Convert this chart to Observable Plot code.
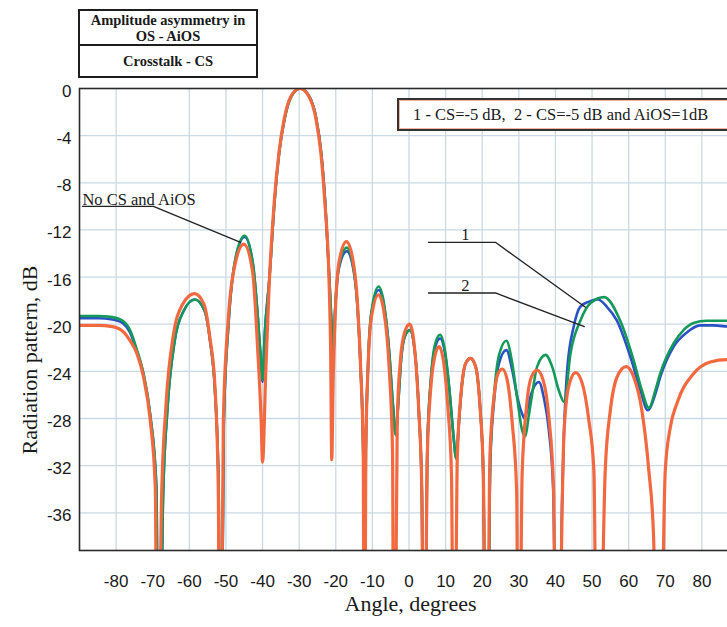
<!DOCTYPE html>
<html>
<head>
<meta charset="utf-8">
<script src="https://cdn.jsdelivr.net/npm/d3@7"></script>
<script src="https://cdn.jsdelivr.net/npm/@observablehq/plot@0.6"></script>
<style>
  html, body { margin: 0; padding: 0; background: #fff; overflow: hidden; width: 727px; height: 627px; }
  #wrap { position: relative; width: 727px; height: 627px; overflow: hidden; }
  #chart { position: absolute; left: 0; top: 80px; }
  .serif { font-family: "Liberation Serif", "Times New Roman", serif; color: #1a1a1a; }
  #legend { position: absolute; left: 78px; top: 9px; width: 176px; border: 2px solid #1e1e1e; background: #fff; }
  #legend .cell { display: flex; align-items: center; justify-content: center; text-align: center; font-weight: bold; font-size: 14.5px; }
  #legend .c1 { height: 33px; line-height: 16px; border-bottom: 2px solid #1e1e1e; }
  #legend .c2 { height: 30px; }
  #note { position: absolute; left: 397px; top: 98px; width: 345px; height: 33px; box-sizing: border-box;
          border: 2px solid #333; box-shadow: inset 0 0 0 1px #f3b39c; background: #fff;
          display: flex; align-items: center; padding-left: 14px; font-size: 16.5px; white-space: pre; }
  #ytitle { position: absolute; left: 30px; top: 360px; transform: translate(-50%, -50%) rotate(-90deg);
            font-size: 22px; white-space: nowrap; line-height: 1; }
</style>
</head>
<body>
<div id="wrap">
  <div id="legend" class="serif">
    <div class="cell c1">Amplitude asymmetry in<br>OS - AiOS</div>
    <div class="cell c2">Crosstalk - CS</div>
  </div>
  <div id="chart"></div>
  <div id="note" class="serif">1 - CS=-5 dB,  2 - CS=-5 dB and AiOS=1dB</div>
  <div id="ytitle" class="serif">Radiation pattern, dB</div>
</div>
<script>
// ---- axis ticks / grid ----
const xTickValues = [-80, -70, -60, -50, -40, -30, -20, -10, 0, 10, 20, 30, 40, 50, 60, 70, 80];
const xGridValues = [-80, -60, -50, -40, -30, -20, -10, 0, 10, 20, 30, 40, 50, 60, 70, 80];
const yTickValues = [0, -4, -8, -12, -16, -20, -24, -28, -32, -36];

// ---- series: No CS and AiOS (orange) ----
const idealAngle = [-90,-85,-81,-78,-76.2,-74.3,-72.5,-70.7,-69.3,-68.7,-67.6,-66.4,-64.4,-62,-58.6,-56,-54.4,-53,-52.1,-51.6,
  -50.7,-49.4,-47.5,-45.1,-42.7,-41.3,-40.4,-40.0,-39.1,-38.2,-36.8,-35.5,-34.1,-32.3,-29.8,-27.3,-25.4,-24.1,-23.0,-21.8,-21.4,-21.1,
  -20.7,-20.0,-19.1,-17.1,-15.4,-14.1,-13.2,-12.5,-12.2,-11.8,-11.2,-10.3,-8.3,-6.8,-5.4,-4.5,-4.1,-3.2,-2.3,-1.2,0.2,1.8,2.7,3.5,4.1,
  5.0,5.9,7.0,8.2,9.5,10.6,11.6,12.3,13.2,14.3,15.5,16.8,18.2,19.4,20.3,21.2,22.1,23.2,24.3,25.5,26.8,28.2,29.4,30.0,
  30.9,32.1,33.4,35.0,36.6,38.2,39.5,40.3,42.3,43.6,45.5,47.3,49.1,50.5,51.5,53.6,55.0,56.8,59.3,61.4,63.6,65.5,66.8,68.2,
  70.0,71.4,73.2,77.7,82.3,86.8,90];
const idealDb = [-20.1,-20.1,-20.2,-20.65,-21.4,-22.5,-24.5,-28.1,-33.8,-60,-35,-27.0,-21.0,-18.4,-17.4,-18.3,-21.1,-25.3,-33.8,-60,
  -28.1,-19.7,-14.9,-13.2,-15.6,-22.3,-28.0,-31.7,-23.8,-16.7,-9.6,-5.4,-2.6,-0.7,0,-0.7,-2.6,-5.4,-9.6,-16.7,-22.3,-31.5,
  -24.5,-18.1,-14.7,-13.0,-14.4,-18.1,-23.8,-30.8,-60,-30.8,-23.8,-19.5,-17.5,-19.0,-23.8,-30.8,-60,-28.0,-22.9,-20.7,-20.0,-23.0,-27.5,-34,-60,
  -31.2,-25.6,-22.8,-21.9,-23.3,-27.0,-32.7,-60,-31.2,-25.6,-23.3,-22.9,-23.6,-27.0,-32.7,-60,-31.2,-26.2,-24.2,-23.8,-24.7,-28.4,-34.1,-60,
  -32.7,-27.0,-24.5,-23.9,-24.7,-27.9,-34.1,-60,-29.5,-25.3,-24.1,-25.0,-28.1,-32.4,-60,-32.4,-27.3,-24.5,-23.6,-24.5,-27.3,-32.4,-38,-60,
  -32.4,-28.7,-26.7,-24.2,-23.2,-23.0,-23.0];

// ---- series 1: CS = -5 dB (blue) ----
const csAngle = [-90,-85,-81,-78,-76.2,-74.3,-72.5,-70.7,-69.0,-68.3,-67.2,-66.0,-64.0,-61.6,-58.5,-55.9,-54.3,-53.0,-52.0,-51.5,
  -50.6,-49.3,-47.4,-44.9,-42.6,-41.3,-40.5,-40.0,-39.4,-38.1,-36.7,-35.4,-34.0,-32.2,-29.7,-27.2,-25.3,-24.0,-22.9,-21.7,-21.1,-20.7,
  -20.2,-19.1,-17.0,-15.4,-14.1,-13.2,-12.5,-12.2,-11.8,-11.2,-10.3,-8.3,-6.8,-5.4,-4.4,-3.6,-2.9,-2.1,-1.1,0.2,1.7,2.7,3.5,4.1,
  5.0,6.0,7.2,8.5,9.8,11.0,12.1,12.9,13.6,14.4,15.5,16.8,18.2,19.4,20.3,21.2,22.2,23.3,24.6,26.6,28.2,29.6,30.9,31.6,
  32.5,33.4,35.5,36.8,38.2,39.4,40.6,41.8,42.3,43.2,45.0,46.8,49.0,51.6,54.0,56.8,60.5,63.2,65.2,67.3,68.6,72.3,75.9,79.5,83.2,86.8,90];
const csDb = [-19.5,-19.5,-19.6,-19.95,-20.7,-22.35,-24.3,-27.7,-33.8,-60,-35,-27.3,-21.4,-18.9,-17.9,-18.8,-21.5,-25.6,-33.8,-60,
  -28.5,-20.0,-14.5,-12.6,-15.0,-19.4,-22.9,-24.9,-20.9,-16.0,-9.5,-5.3,-2.6,-0.7,0,-0.7,-2.6,-5.4,-9.6,-16.5,-20.5,-22.8,
  -19.0,-15.2,-13.8,-15.0,-18.4,-23.8,-30.8,-60,-30.8,-23.7,-19.2,-17.1,-18.5,-22.4,-26.8,-29.4,-26.5,-22.8,-21.0,-20.5,-22.6,-27.5,-34,-60,
  -30.6,-24.7,-21.9,-21.2,-22.4,-25.5,-29.3,-31.4,-28.5,-25.3,-23.3,-22.9,-23.6,-27.0,-32.7,-60,-31.8,-26.3,-23.3,-22.2,-23.9,-26.2,-27.6,-28.0,
  -27.0,-25.9,-24.9,-26.2,-29.0,-34.1,-60,-35.2,-29.5,-23.9,-20.2,-18.5,-18.1,-17.9,-18.5,-19.7,-22.8,-25.6,-27.3,-25.9,-24.5,-21.9,-20.7,-20.1,-20.1,-20.2,-20.3];

// ---- series 2: CS = -5 dB and AiOS = 1 dB (green) ----
const csAiosAngle = [-90,-85,-81,-78,-76.2,-74.3,-72.5,-70.7,-69.0,-68.3,-67.2,-66.0,-64.0,-61.6,-58.5,-55.9,-54.3,-53.0,-52.0,-51.5,
  -50.6,-49.3,-47.4,-44.9,-42.6,-41.3,-40.5,-40.0,-39.4,-38.1,-36.7,-35.4,-34.0,-32.2,-29.7,-27.2,-25.3,-24.0,-22.9,-21.7,-21.1,-20.7,
  -20.2,-19.1,-17.0,-15.4,-14.1,-13.2,-12.5,-12.2,-11.8,-11.2,-10.3,-8.3,-6.8,-5.4,-4.4,-3.6,-2.9,-2.1,-1.1,0.2,1.7,2.7,3.5,4.1,
  5.0,6.0,7.2,8.5,9.8,11.0,12.1,12.9,13.6,14.4,15.5,16.8,18.2,19.4,20.3,21.2,22.2,23.3,24.6,26.6,28.2,29.6,30.9,31.8,
  32.6,33.6,35.0,37.3,39.1,40.9,42.4,44.1,46.8,49.6,53.3,57.7,61.4,63.6,65.5,67.3,68.6,72.3,75.0,77.7,81.3,86.8,90];
const csAiosDb = [-19.3,-19.3,-19.4,-19.75,-20.5,-22.2,-24.2,-27.6,-33.8,-60,-35,-27.3,-21.4,-18.9,-17.9,-18.8,-21.5,-25.6,-33.8,-60,
  -28.5,-20.0,-14.4,-12.5,-14.9,-19.3,-22.8,-24.7,-20.8,-16.0,-9.5,-5.3,-2.6,-0.7,0,-0.7,-2.6,-5.4,-9.6,-16.4,-20.2,-22.3,
  -18.8,-15.0,-13.5,-14.8,-18.3,-23.8,-30.8,-60,-30.8,-23.6,-19.0,-16.8,-18.3,-22.3,-26.8,-29.4,-26.5,-22.8,-21.0,-20.5,-22.6,-27.5,-34,-60,
  -30.5,-24.5,-21.6,-20.9,-22.2,-25.4,-29.3,-31.4,-28.5,-25.3,-23.3,-22.9,-23.6,-27.0,-32.7,-60,-31.5,-25.8,-22.6,-21.4,-23.3,-26.4,-29.0,-29.5,
  -28.0,-26.0,-23.6,-22.6,-23.6,-25.6,-26.6,-22.5,-19.7,-18.2,-17.7,-19.7,-23.1,-25.6,-27.1,-25.6,-24.2,-21.6,-20.5,-19.9,-19.7,-19.7,-19.8];

// ---- annotations (data coordinates) ----
const noCsLeaderAngle = [-89.2, -69.8, -46.0];
const noCsLeaderDb = [-10.0, -10.0, -13.05];
const leader1Angle = [5.3, 23.6, 48.2];
const leader1Db = [-13.05, -13.05, -18.56];
const leader2Angle = [5.3, 23.6, 47.9];
const leader2Db = [-17.35, -17.35, -20.2];
const noCsLabel = ["No CS and AiOS"];
const noCsLabelAngle = [-89.2];
const noCsLabelDb = [-9.41];
const numLabels = ["1", "2"];
const numLabelAngle = [15.4, 15.4];
const numLabelDb = [-12.38, -16.71];

const rows = (xs, ys) => xs.map((x, i) => ({x, y: ys[i]}));
const ideal = rows(idealAngle, idealDb);
const cs = rows(csAngle, csDb);
const csAios = rows(csAiosAngle, csAiosDb);
const noCsRows = noCsLabel.map((t, i) => ({t, x: noCsLabelAngle[i], y: noCsLabelDb[i]}));
const numRows = numLabels.map((t, i) => ({t, x: numLabelAngle[i], y: numLabelDb[i]}));

const serif = '"Liberation Serif", "Times New Roman", serif';
const sans = '"Liberation Sans", Arial, sans-serif';

const chart = Plot.plot({
  width: 740,
  height: 547,
  marginTop: 8,
  marginBottom: 77,
  marginLeft: 79,
  marginRight: 2,
  style: {fontFamily: sans, fontSize: "17px", color: "#1a1a1a", background: "#fff", maxWidth: "none", overflow: "visible"},
  x: {domain: [-90, 90]},
  y: {domain: [-39.2, 0]},
  marks: [
    Plot.ruleX(xGridValues, {stroke: "#cbd9e4", strokeWidth: 1.3}),
    Plot.ruleY(yTickValues.filter(d => d !== 0), {stroke: "#cbd9e4", strokeWidth: 1.3}),
    Plot.line(cs, {x: "x", y: "y", stroke: "#2a52c4", strokeWidth: 2.6, curve: "monotone-x", clip: true}),
    Plot.line(csAios, {x: "x", y: "y", stroke: "#14995a", strokeWidth: 2.6, curve: "monotone-x", clip: true}),
    Plot.line(ideal, {x: "x", y: "y", stroke: "#f2683f", strokeWidth: 3.2, curve: "monotone-x", clip: true}),
    Plot.line(rows(noCsLeaderAngle, noCsLeaderDb), {x: "x", y: "y", stroke: "#222", strokeWidth: 1.3}),
    Plot.line(rows(leader1Angle, leader1Db), {x: "x", y: "y", stroke: "#222", strokeWidth: 1.3}),
    Plot.line(rows(leader2Angle, leader2Db), {x: "x", y: "y", stroke: "#222", strokeWidth: 1.3}),
    Plot.text(noCsRows, {x: "x", y: "y", text: "t", textAnchor: "start", fontFamily: serif, fontSize: 16.5, fill: "#1a1a1a"}),
    Plot.text(numRows, {x: "x", y: "y", text: "t", textAnchor: "middle", fontFamily: serif, fontSize: 16.5, fill: "#1a1a1a"}),
    Plot.frame({stroke: "#2a2a2a", strokeWidth: 1.6}),
    Plot.axisX({ticks: xTickValues, tickSize: 0, tickPadding: 24, tickFormat: d => String(d), label: null, fontSize: 17}),
    Plot.axisY({ticks: yTickValues, tickSize: 0, tickPadding: 8, tickFormat: d => String(d), label: null, fontSize: 17, dy: 3}),
    Plot.text(["Angle, degrees"], {text: d => d, frameAnchor: "bottom", dx: 1.5, dy: 60, fontFamily: serif, fontSize: 22, fill: "#1a1a1a"})
  ]
});
document.getElementById("chart").appendChild(chart);
</script>
</body>
</html>
